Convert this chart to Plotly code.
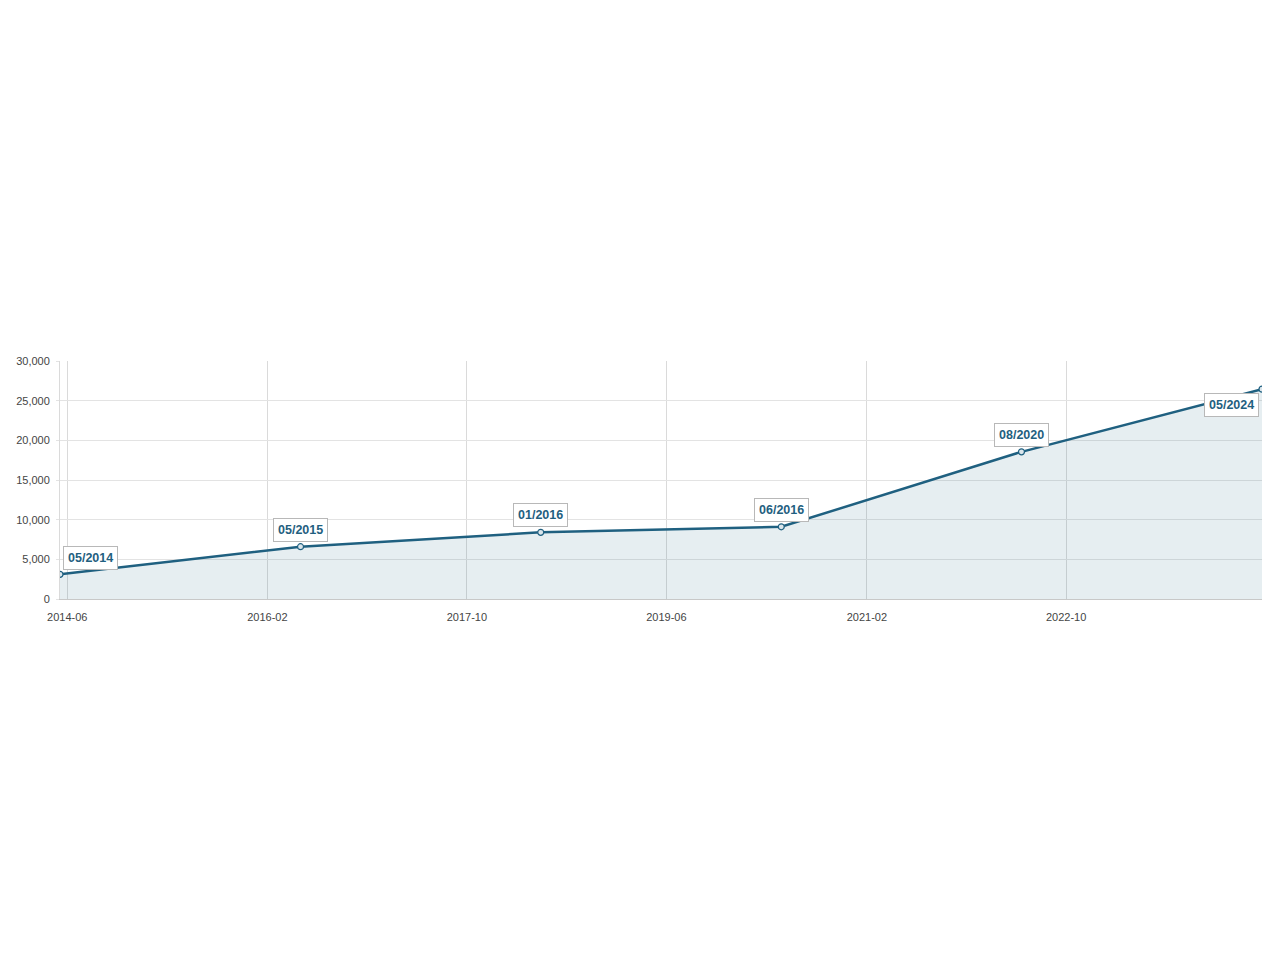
import plotly.graph_objects as go

# points along the curve
dates = ["2014-05-10", "2016-05-12", "2018-05-14", "2020-05-16", "2022-05-18", "2024-05-20"]
values = [3110, 6590, 8400, 9100, 18550, 26450]
labels = ["05/2014", "05/2015", "01/2016", "06/2016", "08/2020", "05/2024"]

LINE = "#1f6080"
FILL = "rgba(31,96,128,0.11)"
GRID = "#e3e3e3"
FONT = "Liberation Sans, Helvetica, Arial, sans-serif"

fig = go.Figure()
fig.add_trace(
    go.Scatter(
        x=dates,
        y=values,
        mode="lines+markers",
        fill="tozeroy",
        fillcolor=FILL,
        line=dict(color=LINE, width=2.5),
        marker=dict(size=6, color="#dbe6ec", line=dict(color=LINE, width=1.2)),
        hoverinfo="x+y",
        showlegend=False,
    )
)

for i, (d, v, lab) in enumerate(zip(dates, values, labels)):
    last = i == len(dates) - 1
    first = i == 0
    if last:
        xa, ya, xs, ys = "right", "top", -3, -4
    elif first:
        xa, ya, xs, ys = "left", "bottom", 3, 4
    else:
        xa, ya, xs, ys = "center", "bottom", 0, 5
    fig.add_annotation(
        x=d,
        y=v,
        text=f"<b>{lab}</b>",
        showarrow=False,
        xanchor=xa,
        yanchor=ya,
        xshift=xs,
        yshift=ys,
        font=dict(family=FONT, size=12.5, color=LINE),
        bgcolor="white",
        bordercolor="#b8b8b8",
        borderwidth=1,
        borderpad=4,
    )

# the page adds an 8px body margin, so the margins are shifted to compensate
fig.update_layout(
    width=1280,
    height=960,
    paper_bgcolor="white",
    plot_bgcolor="white",
    margin=dict(l=52, r=26, t=353, b=369),
    font=dict(family=FONT, size=11, color="#444"),
    hovermode="closest",
)

fig.update_xaxes(
    type="date",
    range=[dates[0], dates[-1]],
    tick0="2014-06-01",
    dtick="M20",
    tickformat="%Y-%m",
    showgrid=True,
    gridcolor="#dadada",
    showline=True,
    linecolor="#c8c8c8",
    linewidth=1,
    ticks="",
    ticklabelstandoff=8,
    zeroline=False,
    automargin=False,
    tickfont=dict(size=11, color="#444"),
)

fig.update_yaxes(
    range=[0, 30000],
    dtick=5000,
    tickformat=",",
    showgrid=True,
    gridcolor=GRID,
    showline=True,
    linecolor="#dadada",
    ticks="outside",
    ticklen=3,
    tickcolor=GRID,
    ticklabelstandoff=4,
    zeroline=False,
    automargin=False,
    tickfont=dict(size=11, color="#444"),
)

fig.write_html("out.html")
